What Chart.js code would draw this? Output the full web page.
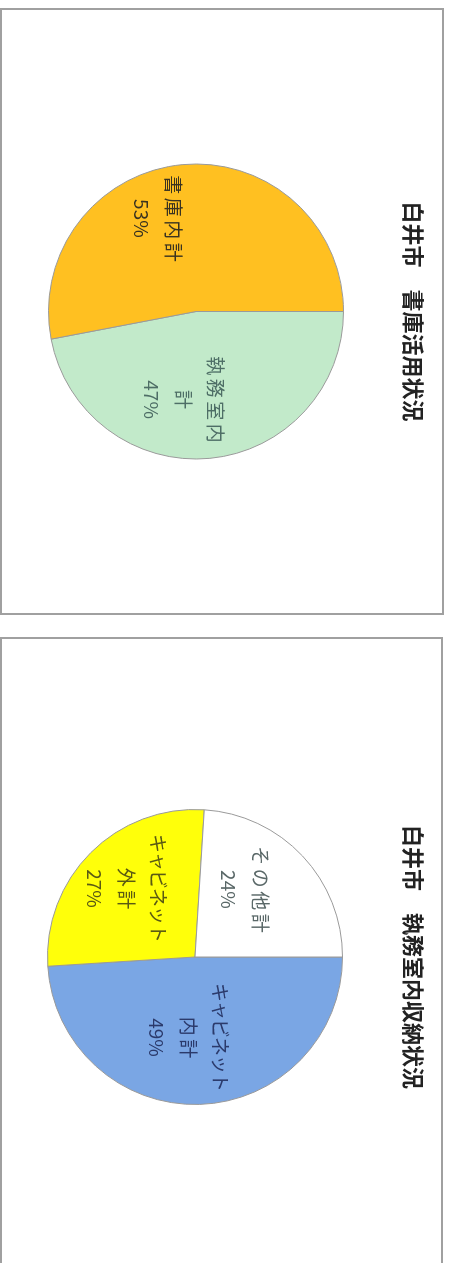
<!DOCTYPE html>
<html><head><meta charset="utf-8">
<script src="https://cdn.jsdelivr.net/npm/chart.js@4/dist/chart.umd.min.js"></script>
<style>
html,body{margin:0;padding:0;background:#fff;width:452px;height:1263px;overflow:hidden;}
.box{position:absolute;box-sizing:border-box;border:2px solid #a0a0a0;transform-origin:0 0;background:#fff;}
.box canvas{display:block;}
</style></head><body>
<div class="box" style="left:0;top:8px;width:607px;height:444px;transform:translateX(444px) rotate(90deg);"><canvas id="c1" width="603" height="440"></canvas></div>
<div class="box" style="left:0;top:637px;width:640px;height:443px;transform:translateX(443px) rotate(90deg);"><canvas id="c2" width="636" height="439"></canvas></div>
<script>
// ---- data ----
const title1 = '白井市　書庫活用状況';
const categories1 = ['執務室内計', '書庫内計'];
const values1 = [47, 53];

const title2 = '白井市　執務室内収納状況';
const categories2 = ['キャビネット内計', 'キャビネット外計', 'その他計'];
const values2 = [49, 27, 24];

// ---- styles ----
const colors1 = ['#C2EACA', '#FFC021'];
const colors2 = ['#7AA6E4', '#FFFF0A', '#FFFFFF'];
const FONT = '"Noto Sans CJK JP", "Noto Sans", sans-serif';

function spacingFor(t, opts) {
  if (/[\u30A0-\u30FF]/.test(t)) return opts.kanaSpacing;
  if (/^[0-9%]+$/.test(t)) return opts.digitSpacing;
  return opts.spacing;
}

const sliceLabels = {
  id: 'sliceLabels',
  afterDatasetsDraw(chart, args, opts) {
    const ctx = chart.ctx;
    const meta = chart.getDatasetMeta(0);
    const vals = chart.data.datasets[0].data;
    const total = vals.reduce((a, b) => a + b, 0);
    ctx.save();
    ctx.font = opts.size + 'px ' + FONT;
    ctx.textAlign = 'center';
    ctx.textBaseline = 'middle';
    meta.data.forEach((arc, i) => {
      const p = arc.getProps(['x', 'y', 'startAngle', 'endAngle', 'outerRadius'], true);
      const mid = (p.startAngle + p.endAngle) / 2;
      const r = p.outerRadius * opts.radius;
      const n = opts.nudges[i];
      const cx = p.x + Math.cos(mid) * r + n[0];
      const cy = p.y + Math.sin(mid) * r + n[1];
      const name = chart.data.labels[i];
      const b = opts.breaks[i];
      const lines = b ? [name.slice(0, b), name.slice(b)] : [name];
      lines.push(Math.round(vals[i] / total * 100) + '%');
      ctx.fillStyle = opts.colors[i];
      const y0 = cy - (lines.length - 1) * opts.lineHeight / 2;
      lines.forEach((t, k) => {
        const s = spacingFor(t, opts);
        if ('letterSpacing' in ctx) ctx.letterSpacing = s + 'px';
        ctx.fillText(t, cx + s / 2, y0 + k * opts.lineHeight);
      });
    });
    ctx.restore();
  }
};

function makePie(id, title, cats, vals, colors, titlePad, bottomPad, labelOpts) {
  return new Chart(document.getElementById(id), {
    type: 'pie',
    data: {
      labels: cats,
      datasets: [{ data: vals, backgroundColor: colors, borderColor: '#9a9a9a', borderWidth: 1 }]
    },
    options: {
      responsive: false,
      animation: false,
      events: [],
      layout: { padding: { top: 0, bottom: bottomPad, left: 0, right: 0 } },
      plugins: {
        legend: { display: false },
        tooltip: { enabled: false },
        title: {
          display: true, text: title, color: '#222',
          font: { family: FONT, size: 22, weight: 'bold', lineHeight: 1.2 },
          padding: titlePad
        },
        sliceLabels: labelOpts
      }
    },
    plugins: [sliceLabels]
  });
}

const labelBase = { size: 19, spacing: 3.5, kanaSpacing: -1, digitSpacing: 0, lineHeight: 32, radius: 0.6 };

makePie('c1', title1, categories1, values1, colors1, { top: 15, bottom: 56.6 }, 46, Object.assign({}, labelBase, {
  breaks: [4, 0],
  nudges: [[0, 21], [-5, 30]],
  colors: ['#4e6e66', '#3a3320']
}));

makePie('c2', title2, categories2, values2, colors2, { top: 14, bottom: 57.6 }, 45, Object.assign({}, labelBase, {
  breaks: [6, 6, 0],
  nudges: [[-8, 10], [-6, 6], [-7, 15]],
  colors: ['#2b3a6b', '#5a5a14', '#5a6868']
}));
</script>
</body></html>
